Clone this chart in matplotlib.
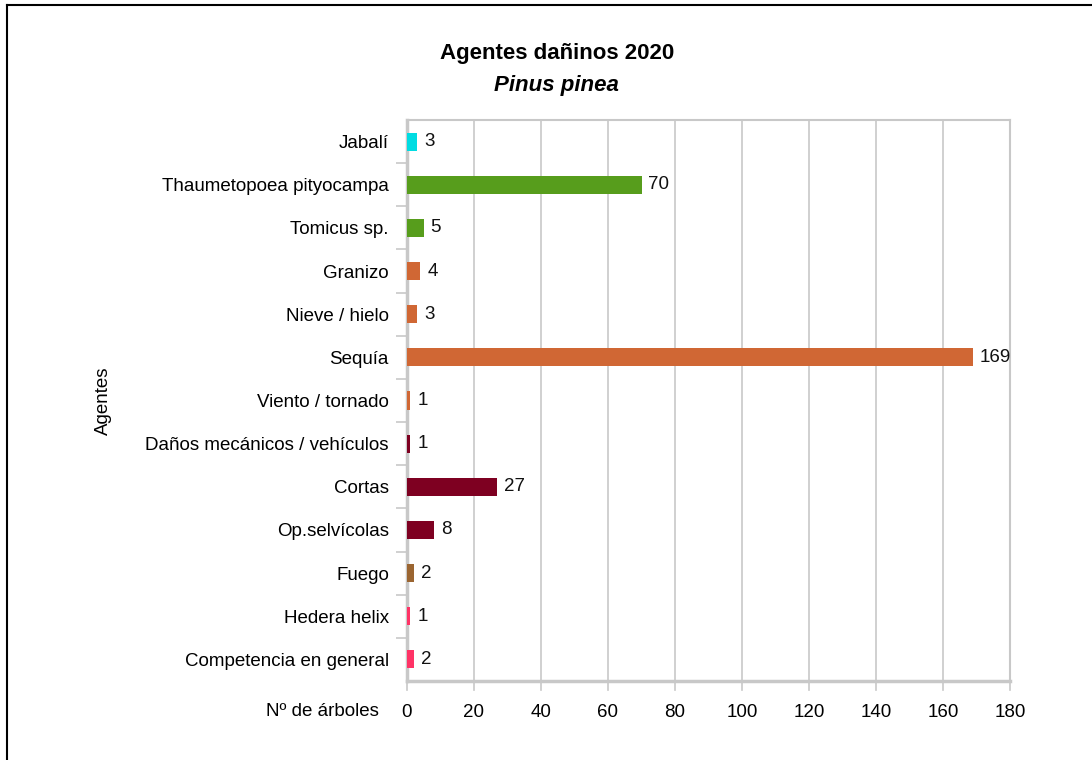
import matplotlib

matplotlib.use("Agg")
import matplotlib.pyplot as plt
from matplotlib.lines import Line2D

# categories top -> bottom as in the reference
agentes = ["Jabalí", "Thaumetopoea pityocampa", "Tomicus sp.", "Granizo", "Nieve / hielo",
           "Sequía", "Viento / tornado", "Daños mecánicos / vehículos", "Cortas",
           "Op.selvícolas", "Fuego", "Hedera helix", "Competencia en general"]
arboles = [3, 70, 5, 4, 3, 169, 1, 1, 27, 8, 2, 1, 2]

_CYAN, _GREEN, _ORANGE = "#00dce2", "#579d1c", "#d06734"
_WINE, _BROWN, _PINK = "#7e0021", "#9b6531", "#ff3366"
colores = [_CYAN, _GREEN, _GREEN, _ORANGE, _ORANGE, _ORANGE, _ORANGE,
           _WINE, _WINE, _WINE, _BROWN, _PINK, _PINK]
_GRID = "#c8c8c8"
_FS = 13.5

plt.rcParams["font.family"] = ["Liberation Sans", "DejaVu Sans"]

fig = plt.figure(figsize=(10.92, 7.6), dpi=100)
ax = fig.add_axes([407 / 1092, 1 - 681 / 760, (1010 - 407) / 1092, (681 - 120) / 760])

n = len(agentes)
ys = list(range(n))[::-1]
ax.barh(ys, arboles, height=0.42, color=colores, zorder=3)
for y, v in zip(ys, arboles):
    ax.annotate(str(v), (v, y), xytext=(5, 0), textcoords="offset points",
                va="center", ha="left", fontsize=_FS, color="#111111", zorder=4)

ax.set_xlim(0, 180)
ax.set_ylim(-0.5, n - 0.5)
ax.set_xticks(range(0, 181, 20))
ax.set_yticks(ys)
ax.set_yticklabels(agentes, fontsize=_FS)
ax.tick_params(axis="y", length=0, pad=13)
ax.tick_params(axis="x", length=0, pad=16.5, labelsize=_FS)
# minor ticks between categories on the y axis, ticks below the x axis
ax.set_yticks([i + 0.5 for i in range(n - 1)], minor=True)
ax.tick_params(axis="y", which="minor", length=8, color=_GRID, width=1.2, direction="out")
for x in range(0, 181, 20):
    ax.add_line(Line2D([x, x], [-0.5, -0.72], color=_GRID, lw=1.2, clip_on=False, zorder=2))
ax.grid(axis="x", color=_GRID, lw=1.2, zorder=0)
for s in ax.spines.values():
    s.set_color(_GRID)
    s.set_linewidth(1.5)
ax.spines["left"].set_linewidth(2.5)
ax.spines["bottom"].set_linewidth(2.5)

ax.set_ylabel("Agentes", fontsize=_FS)
ax.yaxis.set_label_coords(-0.49, 0.5)
fig.text(322 / 1092, 1 - 712 / 760, "Nº de árboles", ha="center", va="center", fontsize=_FS)

fig.text(0.51, 1 - 53 / 760, "Agentes dañinos 2020", ha="center", va="center",
         fontsize=16, fontweight="bold")
fig.text(0.51, 1 - 86 / 760, "Pinus pinea", ha="center", va="center",
         fontsize=16, fontweight="bold", style="italic")

# outer chart border (only top and left visible in the reference)
fig.add_artist(Line2D([7 / 1092, 7 / 1092], [0, 1 - 5 / 760], color="black", lw=1.5))
fig.add_artist(Line2D([7 / 1092, 1], [1 - 5 / 760, 1 - 5 / 760], color="black", lw=1.5))

fig.savefig("out.png", dpi=100)
